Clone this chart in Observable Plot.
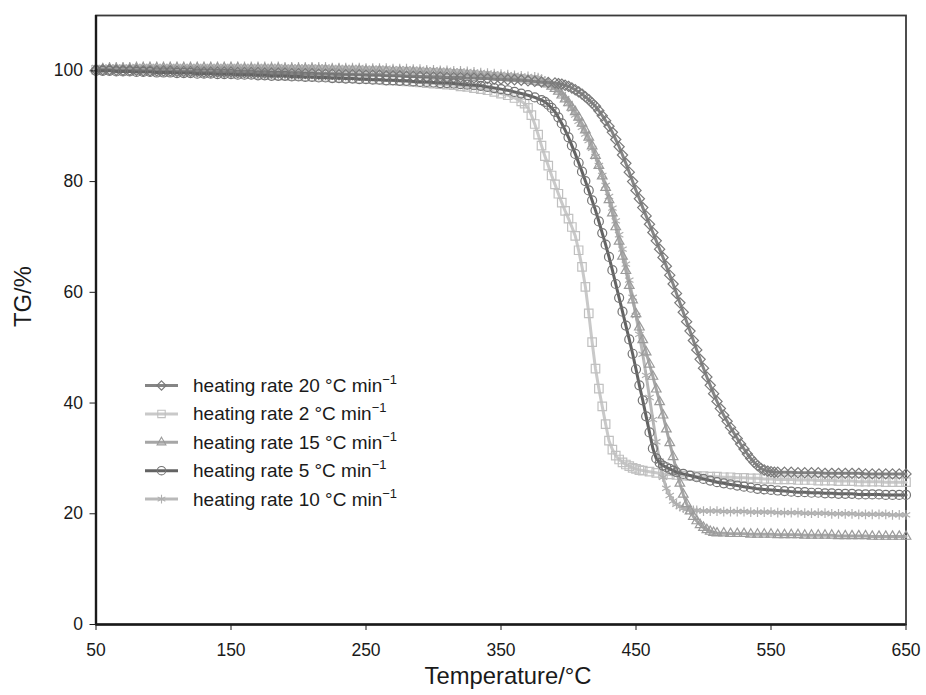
<!DOCTYPE html>
<html>
<head>
<meta charset="utf-8">
<script src="https://cdn.jsdelivr.net/npm/d3@7"></script>
<script src="https://cdn.jsdelivr.net/npm/@observablehq/plot@0.6"></script>
<style>
  body { margin: 0; background: #fff; }
  #chart { position: relative; width: 926px; height: 695px; }
</style>
</head>
<body>
<div id="chart"></div>
<script>
// ---------- data ----------
const xTicks = [50, 150, 250, 350, 450, 550, 650];
const yTicks = [0, 20, 40, 60, 80, 100];
const xTitle = "Temperature/°C";
const yTitle = "TG/%";
const legendRates = [20, 2, 15, 5, 10];

// heating rate 20 °C/min
const temp20 = [50,55,60,65,70,75,80,85,90,95,
100,105,110,115,120,125,130,135,140,145,
150,155,160,165,170,175,180,185,190,195,
200,205,210,215,220,225,230,235,240,245,
250,255,260,265,270,275,280,285,290,295,
300,305,310,315,320,325,330,335,340,345,
350,355,360,365,370,375,380,385,390,
392.5,395,397.5,400,402.5,405,407.5,410,412.5,415,
417.5,420,422.5,425,427.5,430,432.5,435,437.5,440,
442.5,445,447.5,450,452.5,455,457.5,460,462.5,465,
467.5,470,472.5,475,477.5,480,482.5,485,487.5,490,
492.5,495,497.5,500,502.5,505,507.5,510,512.5,515,
517.5,520,522.5,525,527.5,530,532.5,535,537.5,540,
542.5,545,547.5,550,552.5,555,
560,565,570,575,580,585,590,595,600,605,
610,615,620,625,630,635,640,645,650];
const tg20 = [100.2,100.2,100.2,100.1,100.1,100.1,100.1,100.0,100.0,100.0,
100.0,100.0,99.9,99.9,99.9,99.9,99.8,99.8,99.8,99.8,
99.8,99.7,99.7,99.7,99.7,99.6,99.6,99.6,99.6,99.5,
99.5,99.5,99.5,99.4,99.4,99.4,99.3,99.3,99.3,99.3,
99.2,99.2,99.2,99.1,99.1,99.1,99.0,99.0,99.0,98.9,
98.9,98.9,98.8,98.8,98.8,98.7,98.7,98.6,98.6,98.5,
98.5,98.4,98.4,98.3,98.2,98.1,98.0,97.9,97.8,
97.7,97.6,97.4,97.2,96.9,96.6,96.2,95.8,95.3,94.8,
94.2,93.6,92.8,91.9,91.0,90.0,88.9,87.6,86.3,84.8,
83.3,81.7,80.0,78.4,76.9,75.3,73.8,72.3,70.8,69.3,
67.8,66.3,64.7,63.1,61.5,59.8,58.1,56.4,54.7,53.0,
51.3,49.6,47.9,46.3,44.7,43.2,41.7,40.3,39.0,37.8,
36.7,35.6,34.6,33.6,32.6,31.7,30.8,30.0,29.3,28.7,
28.2,27.9,27.7,27.6,27.5,27.5,
27.5,27.5,27.4,27.4,27.4,27.4,27.3,27.3,27.3,27.3,
27.3,27.3,27.2,27.2,27.2,27.2,27.2,27.2,27.2];

// heating rate 2 °C/min
const temp2 = [50,55,60,65,70,75,80,85,90,95,
100,105,110,115,120,125,130,135,140,145,
150,155,160,165,170,175,180,185,190,195,
200,205,210,215,220,225,230,235,240,245,
250,255,260,265,270,275,280,285,290,295,
300,305,310,315,320,325,330,335,340,345,
350,355,360,365,
367.5,370,372.5,375,377.5,380,382.5,385,387.5,390,
392.5,395,397.5,400,402.5,405,407.5,410,412.5,415,
417.5,420,422.5,425,427.5,430,432.5,435,437.5,440,
442.5,445,447.5,450,452.5,455,
460,465,470,475,480,485,490,495,500,505,
510,515,520,525,530,535,540,545,550,555,
560,565,570,575,580,585,590,595,600,605,
610,615,620,625,630,635,640,645,650];
const tg2 = [100.2,100.2,100.2,100.2,100.1,100.1,100.1,100.0,100.0,100.0,
99.9,99.9,99.9,99.8,99.8,99.8,99.7,99.7,99.7,99.6,
99.6,99.5,99.5,99.4,99.4,99.3,99.3,99.2,99.2,99.1,
99.1,99.0,99.0,98.9,98.9,98.8,98.8,98.7,98.7,98.6,
98.6,98.5,98.4,98.3,98.3,98.2,98.1,98.0,97.9,97.8,
97.7,97.6,97.5,97.4,97.2,97.1,96.9,96.7,96.5,96.2,
95.9,95.6,95.1,94.5,
94.1,93.3,92.0,90.4,88.5,86.5,84.6,82.9,81.1,79.5,
77.8,76.2,74.7,73.3,71.8,70.2,67.6,64.6,61.0,56.2,
51.0,46.2,42.6,39.4,36.2,33.2,31.6,30.5,29.8,29.3,
28.9,28.6,28.3,28.1,27.9,27.8,
27.6,27.4,27.2,27.1,27.0,26.9,26.9,26.8,26.8,26.7,
26.7,26.6,26.6,26.5,26.5,26.4,26.4,26.3,26.3,26.2,
26.2,26.2,26.1,26.1,26.1,26.0,26.0,26.0,25.9,25.9,
25.9,25.8,25.8,25.8,25.8,25.7,25.7,25.7,25.7];

// heating rate 15 °C/min
const temp15 = [50,55,60,65,70,75,80,85,90,95,
100,105,110,115,120,125,130,135,140,145,
150,155,160,165,170,175,180,185,190,195,
200,205,210,215,220,225,230,235,240,245,
250,255,260,265,270,275,280,285,290,295,
300,305,310,315,320,325,330,335,340,345,
350,355,360,365,370,375,380,385,
387.5,390,392.5,395,397.5,400,402.5,405,407.5,410,
412.5,415,417.5,420,422.5,425,427.5,430,432.5,435,
437.5,440,442.5,445,447.5,450,452.5,455,457.5,460,
462.5,465,467.5,470,472.5,475,477.5,480,482.5,485,
487.5,490,492.5,495,497.5,500,502.5,505,507.5,510,
515,520,525,530,535,540,545,550,555,560,
565,570,575,580,585,590,595,600,605,610,
615,620,625,630,635,640,645,650];
const tg15 = [100.3,100.3,100.4,100.4,100.4,100.4,100.5,100.5,100.5,100.5,
100.5,100.5,100.5,100.5,100.5,100.5,100.5,100.5,100.5,100.5,
100.5,100.5,100.4,100.4,100.4,100.4,100.4,100.4,100.3,100.3,
100.3,100.3,100.3,100.2,100.2,100.2,100.2,100.1,100.1,100.1,
100.0,100.0,100.0,99.9,99.9,99.9,99.8,99.8,99.7,99.7,
99.6,99.6,99.5,99.4,99.4,99.3,99.2,99.1,99.0,98.9,
98.8,98.7,98.6,98.5,98.3,98.1,97.9,97.6,
97.2,96.8,96.3,95.6,94.9,94.2,93.4,92.6,91.6,90.5,
89.3,88.0,86.4,84.7,82.9,81.0,78.9,76.7,74.3,71.8,
69.2,66.5,63.9,61.2,58.6,56.1,53.7,51.4,49.2,47.0,
44.8,42.5,40.2,37.8,35.3,32.8,30.3,27.8,25.5,23.5,
21.8,20.5,19.5,18.7,18.0,17.5,17.1,16.8,16.6,16.5,
16.5,16.4,16.4,16.4,16.3,16.3,16.3,16.3,16.2,16.2,
16.2,16.2,16.1,16.1,16.1,16.1,16.1,16.0,16.0,16.0,
16.0,16.0,15.9,15.9,15.9,15.9,15.9,15.9];

// heating rate 5 °C/min
const temp5 = [50,55,60,65,70,75,80,85,90,95,
100,105,110,115,120,125,130,135,140,145,
150,155,160,165,170,175,180,185,190,195,
200,205,210,215,220,225,230,235,240,245,
250,255,260,265,270,275,280,285,290,295,
300,305,310,315,320,325,330,335,340,345,
350,355,360,365,370,375,380,
382.5,385,387.5,390,392.5,395,397.5,400,402.5,405,
407.5,410,412.5,415,417.5,420,422.5,425,427.5,430,
432.5,435,437.5,440,442.5,445,447.5,450,452.5,455,
457.5,460,462.5,465,467.5,470,472.5,475,477.5,480,
485,490,495,500,505,510,515,520,525,530,
535,540,545,550,555,560,565,570,575,580,
585,590,595,600,605,610,615,620,625,630,
635,640,645,650];
const tg5 = [100.0,100.0,100.0,99.9,99.9,99.9,99.8,99.8,99.8,99.7,
99.7,99.7,99.6,99.6,99.6,99.5,99.5,99.5,99.4,99.4,
99.4,99.3,99.3,99.3,99.2,99.2,99.1,99.1,99.1,99.0,
99.0,98.9,98.9,98.8,98.8,98.7,98.7,98.6,98.6,98.5,
98.5,98.4,98.4,98.3,98.3,98.2,98.2,98.1,98.0,98.0,
97.9,97.8,97.8,97.7,97.6,97.5,97.4,97.3,97.1,96.9,
96.7,96.5,96.2,95.9,95.6,95.2,94.7,
94.4,93.9,93.3,92.6,91.6,90.5,89.3,88.0,86.5,85.0,
83.4,81.8,80.1,78.4,76.6,74.8,72.8,70.7,68.6,66.4,
64.0,61.5,59.0,56.5,54.0,51.5,48.9,46.1,43.2,40.5,
37.6,34.7,31.8,30.0,29.2,28.7,28.4,28.1,27.8,27.5,
27.2,26.9,26.6,26.3,26.0,25.7,25.5,25.3,25.1,24.9,
24.7,24.5,24.4,24.3,24.2,24.1,24.0,23.9,23.9,23.8,
23.8,23.7,23.7,23.6,23.6,23.6,23.5,23.5,23.5,23.5,
23.4,23.4,23.4,23.4];

// heating rate 10 °C/min
const temp10 = [50,55,60,65,70,75,80,85,90,95,
100,105,110,115,120,125,130,135,140,145,
150,155,160,165,170,175,180,185,190,195,
200,205,210,215,220,225,230,235,240,245,
250,255,260,265,270,275,280,285,290,295,
300,305,310,315,320,325,330,335,340,345,
350,355,360,365,370,375,
377.5,380,382.5,385,387.5,390,392.5,395,397.5,400,
402.5,405,407.5,410,412.5,415,417.5,420,422.5,425,
427.5,430,432.5,435,437.5,440,442.5,445,447.5,450,
452.5,455,457.5,460,462.5,465,467.5,470,472.5,475,
477.5,480,482.5,485,487.5,490,492.5,
495,500,505,510,515,520,525,530,535,540,
545,550,555,560,565,570,575,580,585,590,
595,600,605,610,615,620,625,630,635,640,
645,650];
const tg10 = [100.6,100.6,100.7,100.7,100.7,100.7,100.8,100.8,100.8,100.8,
100.8,100.8,100.8,100.8,100.8,100.8,100.8,100.8,100.8,100.8,
100.8,100.8,100.8,100.8,100.8,100.8,100.8,100.8,100.7,100.7,
100.7,100.7,100.7,100.7,100.7,100.6,100.6,100.6,100.6,100.6,
100.5,100.5,100.5,100.5,100.4,100.4,100.4,100.3,100.3,100.2,
100.2,100.1,100.1,100.0,100.0,99.9,99.8,99.7,99.6,99.5,
99.4,99.3,99.2,99.1,99.0,98.9,
98.8,98.5,98.2,97.8,97.4,97.0,96.4,95.7,95.0,94.1,
93.1,92.0,90.9,89.8,88.6,87.4,86.0,84.5,82.9,81.1,
79.3,77.3,75.2,72.9,70.4,67.8,65.1,62.2,59.1,55.8,
52.4,48.8,45.0,41.0,37.0,33.0,29.5,26.6,24.6,23.3,
22.3,21.7,21.3,21.0,20.8,20.7,20.6,
20.6,20.5,20.5,20.5,20.4,20.4,20.4,20.4,20.3,20.3,
20.3,20.3,20.2,20.2,20.2,20.2,20.1,20.1,20.1,20.1,
20.0,20.0,20.0,20.0,19.9,19.9,19.9,19.9,19.9,19.8,
19.8,19.8];

// ---------- assembly ----------
const temps = {20: temp20, 2: temp2, 15: temp15, 5: temp5, 10: temp10};
const tgs   = {20: tg20,   2: tg2,   15: tg15,   5: tg5,   10: tg10};

const styles = {
  20: {symbol: "diamond2",  r: 4.6, line: "#858585", mark: "#7a7a7a"},
  2:  {symbol: "square",    r: 4.8, line: "#c9c9c9", mark: "#c0c0c0"},
  15: {symbol: "triangle2", r: 4.6, line: "#a6a6a6", mark: "#9b9b9b"},
  5:  {symbol: "circle",    r: 4.5, line: "#636363", mark: "#747474"},
  10: {symbol: "asterisk",  r: 4.6, line: "#b9b9b9", mark: "#afafaf"}
};
const drawOrder = [2, 10, 15, 20, 5];

function rows(rate) {
  const t = temps[rate], v = tgs[rate];
  if (t.length !== v.length) console.error("length mismatch", rate, t.length, v.length);
  return t.map((x, i) => ({T: x, TG: v[i]}));
}

const seriesMarks = [];
for (const rate of drawOrder) {
  const d = rows(rate), s = styles[rate];
  seriesMarks.push(Plot.line(d, {x: "T", y: "TG", stroke: s.line, strokeWidth: 3}));
  seriesMarks.push(Plot.dot(d, {x: "T", y: "TG", symbol: s.symbol, r: s.r, stroke: s.mark, strokeWidth: 1.2, fill: "none"}));
}

const font = "'Liberation Sans', Arial, Helvetica, sans-serif";

const plot = Plot.plot({
  width: 926,
  height: 695,
  marginLeft: 95.5,
  marginRight: 20.5,
  marginTop: 15,
  marginBottom: 71,
  style: {fontFamily: font, fontSize: "17.5px", color: "#1a1a1a", background: "#fff"},
  x: {domain: [50, 650]},
  y: {domain: [0, 110]},
  marks: [
    Plot.frame({stroke: "#3a3a3a", strokeWidth: 1.8}),
    ...seriesMarks,
    Plot.ruleX([50], {stroke: "#1a1a1a", strokeWidth: 2.4}),
    Plot.ruleY([0], {stroke: "#1a1a1a", strokeWidth: 2.4}),
    Plot.axisX({ticks: xTicks, tickSize: 6, tickPadding: 13, label: null, fontSize: 17.5}),
    Plot.axisY({ticks: yTicks, tickSize: 6, tickPadding: 7, label: null, fontSize: 17.5}),
    Plot.text([xTitle], {text: d => d, frameAnchor: "bottom", dy: 59, dx: 7, fontSize: 23.8, fill: "#1a1a1a"}),
    Plot.text([yTitle], {text: d => d, frameAnchor: "left", rotate: -90, dx: -73, dy: 7, fontSize: 23.8, fill: "#1a1a1a"})
  ]
});

// ---------- legend inside the plot area ----------
const symbolMap = {
  diamond2: d3.symbolDiamond2, square: d3.symbolSquare, triangle2: d3.symbolTriangle2,
  circle: d3.symbolCircle, asterisk: d3.symbolAsterisk
};
const svg = d3.select(plot);
const lg = svg.append("g").attr("font-family", font).attr("font-size", 19)
  .attr("fill", "#1a1a1a").attr("text-anchor", "start");
legendRates.forEach((rate, i) => {
  const s = styles[rate];
  const cy = 385.5 + i * 28.4;
  const g = lg.append("g").attr("transform", `translate(0,${cy})`);
  g.append("line").attr("x1", 145).attr("x2", 178).attr("y1", 0).attr("y2", 0)
    .attr("stroke", s.line).attr("stroke-width", 3);
  g.append("path").attr("transform", "translate(161.5,0)")
    .attr("d", d3.symbol(symbolMap[s.symbol], Math.PI * 4.2 * 4.2)())
    .attr("fill", "none").attr("stroke", s.mark).attr("stroke-width", 1.1);
  const t = g.append("text").attr("x", 193).attr("y", 6.5).attr("text-anchor", "start");
  t.append("tspan").text(`heating rate ${rate} °C min`);
  t.append("tspan").attr("dy", -8).attr("font-size", 13).text("\u22121");
});

document.getElementById("chart").appendChild(plot);
</script>
</body>
</html>
